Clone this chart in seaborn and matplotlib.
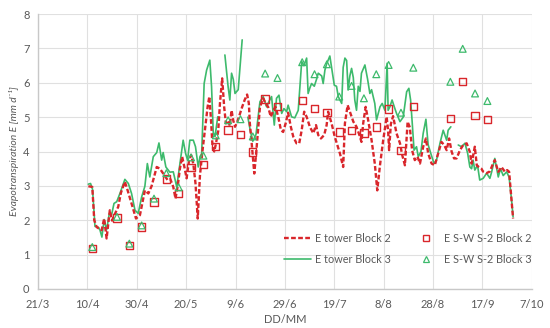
import numpy as np
import pandas as pd
import matplotlib
matplotlib.use("Agg")
import matplotlib.pyplot as plt
from matplotlib.lines import Line2D
import seaborn as sns

# x positions are days after 21/3
tick_days = [0, 20, 40, 60, 80, 100, 120, 140, 160, 180, 200]
tick_labels = ["21/3", "10/4", "30/4", "20/5", "9/6", "29/6", "19/7", "8/8", "28/8", "17/9", "7/10"]

# E tower Block 2
tower2_days = [20.4, 22.0, 22.8, 23.8, 25.8, 26.8, 27.8, 29.1, 30.0, 31.2, 32.5, 33.6, 35.2, 36.4, 37.9,
               39.7, 41.3, 43.3, 44.7, 46.0, 48.1, 49.4, 50.7, 52.5, 53.6, 54.8, 55.7, 56.7, 57.5, 58.4,
               59.3, 60.2, 61.1, 62.0, 62.9, 63.8, 64.7, 65.6, 66.5, 67.6, 68.7, 69.4, 70.0, 70.7, 71.4,
               72.1, 73.0, 73.7, 74.6, 75.4, 76.1, 77.0, 77.7, 78.4, 79.1, 79.8, 80.9, 81.8, 82.7, 83.7,
               84.7, 85.4, 85.8, 86.6, 87.6, 88.3, 89.1, 89.9, 91.2, 92.2, 93.2, 94.3, 95.3, 96.2, 97.3,
               98.4, 99.3, 100.3, 101.3, 102.4, 103.4, 104.7, 105.8, 106.8, 107.8, 108.8, 110.1, 111.5,
               112.6, 113.5, 114.6, 115.9, 116.9, 117.5, 118.9, 120.2, 122.3, 123.6, 124.3, 125.4, 126.3,
               127.7, 129.0, 130.4, 131.0, 131.7, 132.7, 133.7, 135.1, 136.4, 137.4, 138.5, 139.8, 141.2,
               141.8, 142.2, 142.9, 143.8, 145.2, 146.6, 147.5, 148.6, 149.7, 150.6, 151.5, 152.6, 153.7,
               154.7, 156.0, 157.1, 158.0, 159.4, 160.7, 162.1, 163.4, 164.5, 165.5, 166.5, 167.5, 168.5,
               169.5, 170.9, 172.2, 173.6, 174.9, 175.6, 176.9, 177.7, 178.5, 179.6, 180.2, 181.6, 183.0,
               184.0, 185.0, 186.4, 187.7, 189.1, 190.0, 190.8, 192.4]
tower2_E = [2.99, 2.97, 2.00, 1.80, 1.71, 2.05, 1.47, 2.29, 1.99, 2.19, 2.39, 2.80, 3.12, 2.85, 2.49,
            2.05, 2.15, 2.87, 2.78, 2.99, 3.55, 3.50, 3.36, 3.17, 3.20, 2.97, 2.63, 3.05, 3.51, 3.85,
            3.55, 3.22, 3.70, 3.90, 3.65, 3.07, 2.05, 3.30, 3.94, 4.62, 5.30, 5.60, 5.00, 4.14, 4.00,
            4.24, 4.60, 5.40, 6.13, 5.30, 4.82, 4.90, 4.75, 5.20, 4.90, 4.72, 4.90, 5.10, 5.30, 5.50,
            5.66, 5.40, 4.82, 4.20, 3.36, 3.90, 4.60, 5.30, 5.55, 5.40, 5.30, 5.01, 5.20, 5.30, 5.01,
            4.62, 4.57, 4.82, 5.13, 4.72, 4.43, 4.24, 4.24, 4.62, 5.16, 5.01, 4.72, 4.53,
            4.77, 4.48, 4.38, 4.48, 4.77, 5.16, 4.82, 4.43, 3.94, 3.55, 4.82, 5.35, 5.16,
            4.87, 4.72, 4.43, 4.28, 4.82, 5.30, 4.92, 4.33, 3.65, 2.87, 3.60, 4.33, 5.01,
            4.60, 4.04, 4.80, 5.03, 4.53, 4.24, 3.90, 3.60, 4.87, 4.70, 4.04, 3.75, 3.85,
            3.65, 4.14, 4.38, 3.95, 3.65, 3.60, 3.95, 4.28, 4.19, 4.04, 4.38, 4.00, 3.80,
            3.80, 4.04, 4.19, 4.24, 3.99, 3.65, 4.14, 3.60, 3.55, 3.50, 3.42, 3.37, 3.42,
            3.60, 3.75, 3.41, 3.55, 3.41, 3.46, 3.41, 2.05]

# E tower Block 3 (nan = gap in record)
tower3_days = [20.4, 21.3, 22.1, 23.1, 24.4, 25.1, 25.9, 26.8, 27.8, 28.9, 29.8, 30.8, 31.9, 33.2, 35.2,
               36.6, 37.9, 39.3, 40.6, 42.0, 43.3, 44.3, 45.3, 46.7, 48.1, 49.0, 50.1, 50.7, 51.8, 53.4,
               54.8, 56.2, 57.5, 58.8, 59.8, 60.6, 61.5, 62.9, 63.8, 64.9, 65.6, 66.3, 67.3, 68.3, 69.6,
               70.3, 71.0, 71.7, 72.8, 74.0, 75.7, 77.0, 77.7, 78.4, 79.1, 79.8, 81.1, 82.7, 84.0, 85.0,
               86.0, 87.0, 88.3, 89.9, 91.2, 92.6, 93.5, 94.6, 95.7, 96.6, 97.6, 98.7, 99.6, 100.7, 101.3,
               102.7, 104.0, 105.4, 106.8, 107.7, 108.8, 109.4, 110.1, 110.8, 111.9, 112.8, 113.5, 114.9,
               115.5, 116.2, 116.9, 118.2, 118.9, 120.0, 120.9, 121.6, 122.3, 123.0, 123.6, 124.3, 125.0,
               125.6, 126.3, 127.0, 127.7, 128.3, 129.0, 129.7, 130.4, 131.0, 132.4, 133.5, 134.4, 135.1,
               136.4, 137.1, 138.5, 139.4, 140.5, 141.4, 141.8, 142.5, 143.4, 144.3, 145.2, 146.6, 147.9,
               149.3, 150.2, 150.9, 151.5, 152.3, 153.3, 154.0, 155.1, 156.0, 157.1, 158.0, 159.1, 160.4,
               161.4, 162.8, 164.1, 165.5, 166.1, 167.2, 168.5, 170.2, 171.5, 172.9, 174.0, 174.9, 175.6,
               176.2, 176.9, 178.0, 178.9, 180.3, 181.7, 183.0, 183.7, 185.0, 186.4, 187.3, 188.4, 189.8,
               190.8, 191.8, 192.4]
tower3_E = [3.05, 3.07, 2.90, 1.82, 1.80, 1.72, 1.51, 2.02, 1.72, 2.20, 2.15, 2.49, 2.54, 2.78, 3.19,
            3.07, 2.78, 2.29, 2.20, 2.68, 2.99, 3.65, 3.26, 3.85, 3.97, 4.25, 3.75, 3.97, 3.55, 3.40,
            3.41, 2.97, 3.65, 4.33, 3.94, 3.75, 4.33, 4.33, 4.14, 3.55, 3.85, 3.94, 5.98, 6.37, 6.66,
            5.89, 4.53, 4.43, 5.01, np.nan, 6.81, 5.89, 5.50, 6.28, 6.10, 5.69, 5.80, 7.25, np.nan, 5.00,
            4.60, 4.30, 4.50, 5.45, 5.60, 5.30, 5.45, 5.60, 4.77, 5.55, 5.64, 5.11, 5.25, 5.16, 5.35,
            5.01, 4.98, 5.20, 6.62, 6.50, 6.72, 5.69, 5.85, 5.98, 5.90, 6.10, 6.28, 6.20,
            5.98, 6.37, 6.55, 6.78, 6.45, 5.93, 5.90, 5.60, 5.50, 5.40, 6.45, 6.72, 6.65,
            5.79, 6.20, 6.42, 6.15, 5.50, 5.20, 5.90, 5.75, 6.28, 6.52, 6.10, 5.69, 5.80,
            5.40, 4.92, 5.30, 5.40, 5.20, 6.57, 5.20, 5.30, 5.50, 5.30, 5.11, 4.87, 5.00,
            5.74, 5.84, 5.50, 4.90, 4.04, 4.14, 3.85, 4.00, 4.53, 4.94, 4.20, 3.94, 3.65,
            3.75, 4.24, 4.62, 4.33, 4.62, 4.72, np.nan, 4.19, 4.14, 4.24, 3.95, 3.55, 3.50,
            3.75, 3.46, 3.60, 3.17, 3.22, 3.37, 3.22, 3.40, 3.80, 3.26, 3.50, 3.30, 3.41,
            3.25, 2.58, 2.10]

# E S-W S-2 samples
sample_days = [22, 32, 37, 42, 47, 52, 57, 62, 67, 72, 77, 82, 87, 92, 97, 107, 112, 117, 122, 127,
               132, 137, 142, 147, 152, 167, 172, 177, 182]
sws2_E = [1.17, 2.07, 1.27, 1.80, 2.53, 3.20, 2.78, 3.53, 3.63, 4.15, 4.63, 4.50, 3.99, 5.53, 5.31,
          5.49, 5.25, 5.13, 4.57, 4.62, 4.54, 4.71, 5.24, 4.03, 5.32, 4.96, 6.03, 5.04, 4.94]
sws3_E = [1.22, 2.10, 1.32, 1.85, 2.63, 3.37, 2.96, 3.83, 3.88, 4.47, 4.91, 4.94, 4.44, 6.27, 6.14,
          6.60, 6.25, 6.54, 5.60, 5.91, 5.55, 6.25, 6.52, 5.13, 6.44, 6.03, 6.99, 5.69, 5.47]

RED = "#d9262b"
GREEN = "#3dba6c"

sns.set_theme(style="whitegrid")
plt.rcParams["font.family"] = ["Lato", "DejaVu Sans"]

t2 = pd.DataFrame({"day": tower2_days, "E": tower2_E})
t3 = pd.DataFrame({"day": tower3_days, "E": tower3_E})
t3["seg"] = t3["E"].isna().cumsum()
t3 = t3.dropna()
samples = pd.DataFrame({"day": sample_days, "b2": sws2_E, "b3": sws3_E})

fig, ax = plt.subplots(figsize=(5.5, 3.28), dpi=100)
fig.subplots_adjust(left=0.069, right=0.967, top=0.957, bottom=0.119)

sns.lineplot(data=t3, x="day", y="E", units="seg", estimator=None, sort=False,
             color=GREEN, lw=1.2, legend=False, ax=ax)
sns.lineplot(data=t2, x="day", y="E", estimator=None, sort=False,
             color=RED, lw=1.7, linestyle=(0, (2.0, 1.0)), legend=False, ax=ax)
sns.scatterplot(data=samples, x="day", y="b2", marker="s", s=28, fc="none", ec=RED,
                linewidth=1.0, legend=False, ax=ax, zorder=4)
sns.scatterplot(data=samples, x="day", y="b3", marker="^", s=24, fc="none", ec=GREEN,
                linewidth=0.9, legend=False, ax=ax, zorder=4)

ax.set_xlim(0, 200)
ax.set_ylim(0, 8)
ax.set_xticks(tick_days)
ax.set_xticklabels(tick_labels)
ax.set_yticks(range(0, 9))
ax.grid(True, color="#e0e0e0", lw=0.8)
for side in ["top", "right"]:
    ax.spines[side].set_visible(False)
for side in ["left", "bottom"]:
    ax.spines[side].set_color("#c8c8c8")
    ax.spines[side].set_linewidth(1.0)
ax.tick_params(axis="both", labelsize=8, colors="#595959", length=0)
ax.tick_params(axis="x", pad=7)
ax.tick_params(axis="y", pad=6)

ax.set_xlabel("DD/MM", fontsize=8, color="#595959", labelpad=3)
ax.set_ylabel("Evapotranspiration E [mm d⁻¹]", fontsize=7.5, color="#595959",
              fontstyle="italic", labelpad=3)

handles = [
    Line2D([], [], color=RED, lw=1.7, linestyle=(0, (2.0, 1.0))),
    Line2D([], [], color=GREEN, lw=1.2),
    Line2D([], [], color=RED, marker="s", ms=5, mfc="none", mew=1.0, lw=0),
    Line2D([], [], color=GREEN, marker="^", ms=5, mfc="none", mew=0.9, lw=0),
]
labels = ["E tower Block 2", "E tower Block 3", "E S-W S-2 Block 2", "E S-W S-2 Block 3"]
leg = ax.legend(handles, labels, ncol=2, loc="upper left", bbox_to_anchor=(0.49, 0.22),
                frameon=False, fontsize=7.8, handlelength=2.5, handletextpad=0.35,
                columnspacing=2.0, labelspacing=0.95, borderaxespad=0)
for t in leg.get_texts():
    t.set_color("#595959")

fig.savefig("out.png", dpi=100)
